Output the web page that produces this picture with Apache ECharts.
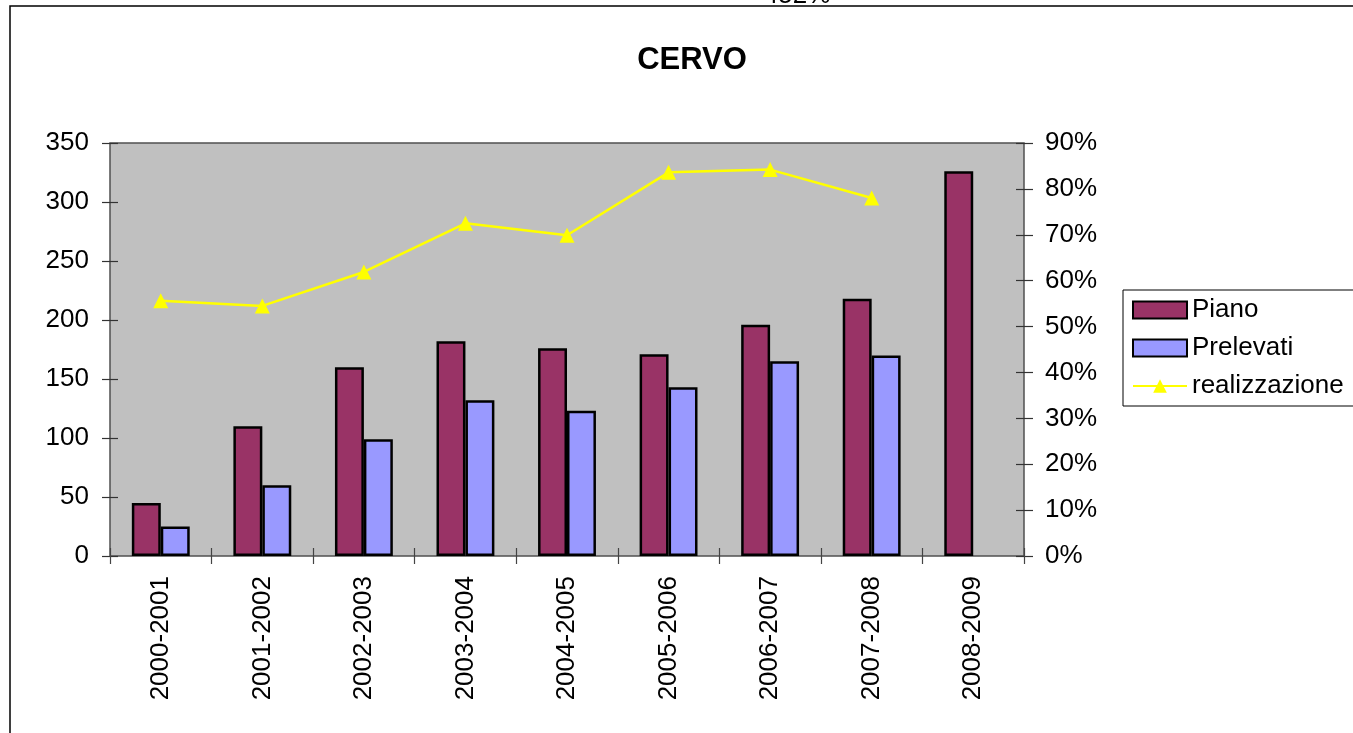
<!DOCTYPE html>
<html>
<head>
<meta charset="utf-8">
<script src="https://cdn.jsdelivr.net/npm/echarts@6/dist/echarts.min.js"></script>
<style>
html,body{margin:0;padding:0;background:#fff;}
#main{width:1353px;height:733px;}
</style>
</head>
<body>
<div id="main"></div>
<script>
const categories = ['2000-2001','2001-2002','2002-2003','2003-2004','2004-2005','2005-2006','2006-2007','2007-2008','2008-2009'];
const piano = [45, 110, 160, 182, 176, 171, 196, 218, 326];
const prelevati = [25, 60, 99, 132, 123, 143, 165, 170, null];
const realizzazione = [0.556, 0.545, 0.619, 0.725, 0.699, 0.836, 0.842, 0.780, null];
const leftTicks = {min: 0, max: 350, interval: 50};
const rightTicks = {min: 0, max: 0.9, interval: 0.1};
const titleText = 'CERVO';
const clippedLabel = '452%';

const FONT = '"Liberation Sans", Arial, sans-serif';
const chart = echarts.init(document.getElementById('main'));

chart.setOption({
  animation: false,
  backgroundColor: '#ffffff',
  textStyle: {fontFamily: FONT},
  title: {
    text: titleText,
    left: 692, top: 45, textAlign: 'center',
    padding: 0,
    textStyle: {fontFamily: FONT, fontSize: 31, fontWeight: 'bold', color: '#000'}
  },
  graphic: [
    {type: 'rect', shape: {x: 10, y: 6, width: 1400, height: 800},
     style: {fill: 'none', stroke: '#000', lineWidth: 1.5}, silent: true, z: -5},
    {type: 'text', x: 797, y: 9,
     style: {text: clippedLabel, font: '26px ' + FONT, fill: '#000', textAlign: 'center', textVerticalAlign: 'bottom'},
     z: 1}
  ],
  legend: {
    orient: 'vertical',
    left: 1123, top: 290,
    padding: [7, 30, 7, 9],
    itemGap: 12,
    itemWidth: 54, itemHeight: 17,
    borderColor: '#000', borderWidth: 1,
    backgroundColor: '#ffffff',
    textStyle: {fontFamily: FONT, fontSize: 26, color: '#000'},
    data: [
      {name: 'Piano', icon: 'rect'},
      {name: 'Prelevati', icon: 'rect'},
      {name: 'realizzazione'}
    ]
  },
  grid: {
    left: 110, right: 329, top: 143, bottom: 177, z: -1,
    show: true, backgroundColor: '#C0C0C0', borderColor: '#505050', borderWidth: 1.5
  },
  xAxis: [{
    type: 'category', data: categories, position: 'bottom', offset: -8,
    axisLine: {show: false},
    axisTick: {show: true, length: 16, inside: false, lineStyle: {color: '#444', width: 1.2}},
    axisLabel: {rotate: 90, fontSize: 26, color: '#000', fontFamily: FONT, margin: 28},
    z: 3
  }],
  yAxis: [{
    type: 'value', position: 'left', offset: -8, ...leftTicks,
    axisLine: {show: false},
    axisTick: {show: true, length: 16, lineStyle: {color: '#333', width: 1.2}},
    axisLabel: {fontSize: 26, color: '#000', fontFamily: FONT, margin: 29},
    splitLine: {show: false},
    z: 3
  }, {
    type: 'value', position: 'right', offset: -8, ...rightTicks,
    axisLine: {show: false},
    axisTick: {show: true, length: 17, lineStyle: {color: '#333', width: 1.2}},
    axisLabel: {fontSize: 26, color: '#000', fontFamily: FONT, margin: 29,
      formatter: v => Math.round(v * 100) + '%'},
    splitLine: {show: false},
    z: 3
  }],
  series: [{
    name: 'Piano', type: 'bar', data: piano,
    barGap: '0%', barCategoryGap: '43%',
    itemStyle: {color: '#993366', borderColor: '#000', borderWidth: 2.5}
  }, {
    name: 'Prelevati', type: 'bar', data: prelevati,
    itemStyle: {color: '#9999FF', borderColor: '#000', borderWidth: 2.5}
  }, {
    name: 'realizzazione', type: 'line', yAxisIndex: 1, data: realizzazione,
    symbol: 'triangle', symbolSize: 15, showSymbol: true,
    lineStyle: {color: '#FFFF00', width: 2.5},
    itemStyle: {color: '#FFFF00'},
    z: 5
  }]
});
</script>
</body>
</html>
